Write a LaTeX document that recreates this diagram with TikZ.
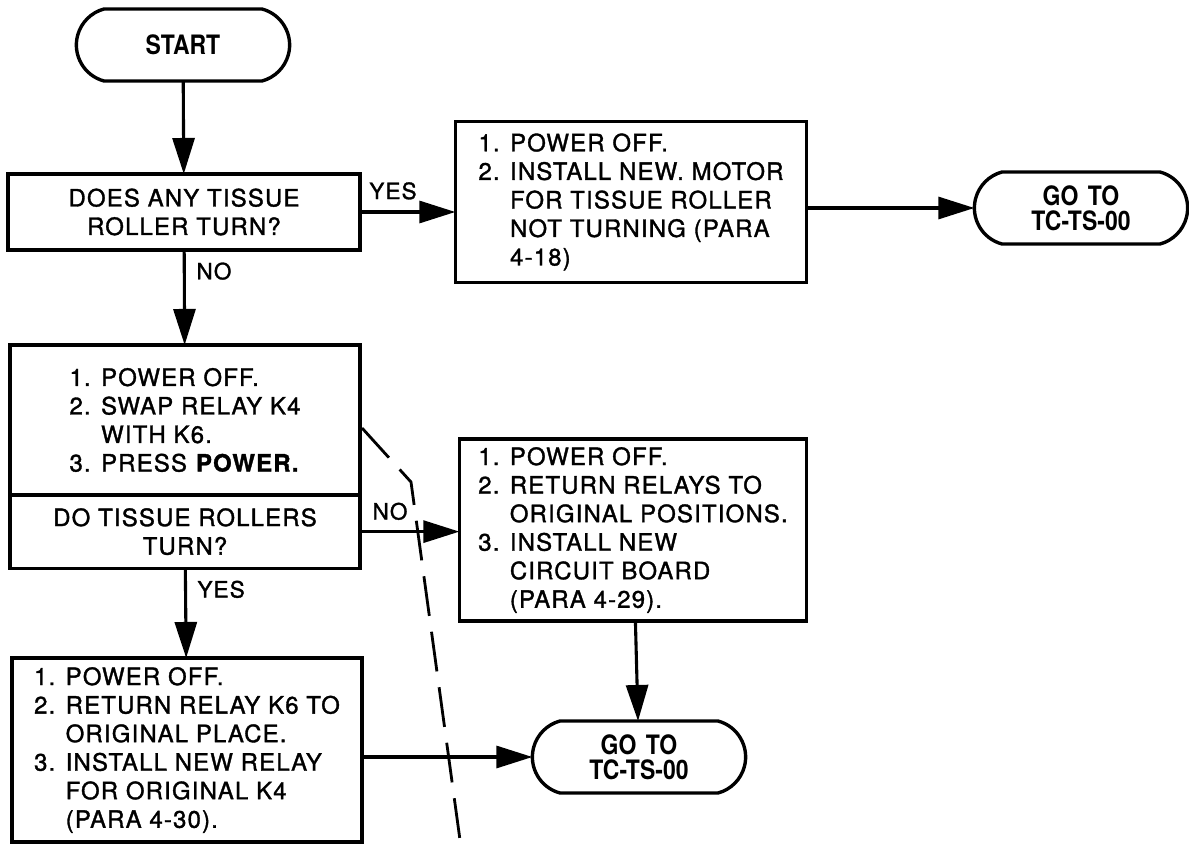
\documentclass[tikz,border=0pt]{standalone}
\usepackage{fontspec}
\setmainfont{TeX Gyre Heros}
\newfontfamily\wideheros[LetterSpace=5, FakeBold=1.4]{TeX Gyre Heros}
\newfontfamily\narrowheros[FakeStretch=0.86]{TeX Gyre Heros}
\usetikzlibrary{arrows.meta, positioning, shapes.misc}
\newcommand{\ind}{\phantom{2. }}
\tikzset{
  every picture/.style={x=0.025cm, y=-0.025cm, line width=2.4pt},
  box/.style={draw, rectangle, align=left, inner sep=0pt, outer sep=0pt, font=\wideheros\fontsize{17}{20.3}\selectfont},
  terminal/.style={draw, rounded rectangle, rounded rectangle arc length=150, align=center, inner sep=0pt, outer sep=0pt, minimum width=5.33cm, minimum height=1.8cm, font=\narrowheros\bfseries\fontsize{19}{17.5}\selectfont},
  arrow/.style={-{Triangle[length=0.9cm, width=0.55cm]}, line width=2.2pt},
  answer/.style={font=\wideheros\fontsize{16}{18}\selectfont, inner sep=2pt},
  cut/.style={dash pattern=on 1cm off 0.4cm, line width=2pt},
}

\begin{document}
\begin{tikzpicture}
  \useasboundingbox (0,0) rectangle (1189,846);
  \node[terminal] (start) at (183,45) {START};
  \node[box, align=center, minimum width=8.8cm, minimum height=1.9cm] (q1) at (184,212) {DOES ANY TISSUE\\ ROLLER TURN?};
  \node[box, minimum width=8.78cm, minimum height=4.03cm] (fix1) at (631,202) {1. POWER OFF.\\ 2. INSTALL NEW. MOTOR\\ \ind FOR TISSUE ROLLER\\ \ind NOT TURNING (PARA\\ \ind 4-18)};
  \node[terminal] (go1) at (1081,208) {GO\hspace{0.35em}TO\\ TC-TS-00};
  \node[box, minimum width=8.75cm, minimum height=3.75cm] (swap) at (185,420) {1. POWER OFF.\\ 2. SWAP RELAY K4\\ \ind WITH K6.\\ 3. PRESS \textbf{POWER.}};
  \node[box, align=center, minimum width=8.75cm, minimum height=1.83cm, below=0pt of swap] (q2) {DO TISSUE ROLLERS\\ TURN?};
  \node[box, minimum width=8.68cm, minimum height=4.55cm] (fix2) at (633,530) {1. POWER OFF.\\ 2. RETURN RELAYS TO\\ \ind ORIGINAL POSITIONS.\\ 3. INSTALL NEW\\ \ind CIRCUIT BOARD\\ \ind (PARA 4-29).};
  \node[terminal] (go2) at (639,757) {GO\hspace{0.35em}TO\\ TC-TS-00};
  \node[box, minimum width=8.75cm, minimum height=4.6cm] (fix3) at (187,750) {1. POWER OFF.\\ 2. RETURN RELAY K6 TO\\ \ind ORIGINAL PLACE.\\ 3. INSTALL NEW RELAY\\ \ind FOR ORIGINAL K4\\ \ind (PARA 4-30).};
  \foreach \a/\b in {start/q1, q1/swap, q2/fix3, fix2/go2} \draw[arrow] (\a) -- (\b);
  \draw[arrow] (q1.east) -- (q1.east -| fix1.west);
  \draw[arrow] (go1.west -| fix1.east) -- (go1.west);
  \draw[arrow] (q2.east) -- (q2.east -| fix2.west);
  \draw[arrow] (go2.west -| fix3.east) -- (go2.west);
  \node[answer, anchor=south west, xshift=0.12cm, yshift=0.2cm] (yes1) at (q1.east) {YES};
  \node[answer, anchor=north west, xshift=0.2cm, yshift=-0.2cm] (no1) at (q1.south) {NO};
  \node[answer, anchor=south west, xshift=0.2cm, yshift=0.18cm] (no2) at (q2.east) {NO};
  \node[answer, anchor=north west, xshift=0.2cm, yshift=-0.2cm] (yes2) at (q2.south) {YES};
  \coordinate (c1) at (362,428);
  \coordinate (c2) at (411,482);
  \coordinate (c3) at (460,840);
  \draw[cut] (c1) -- (c2) -- (c3);
\end{tikzpicture}
\end{document}
